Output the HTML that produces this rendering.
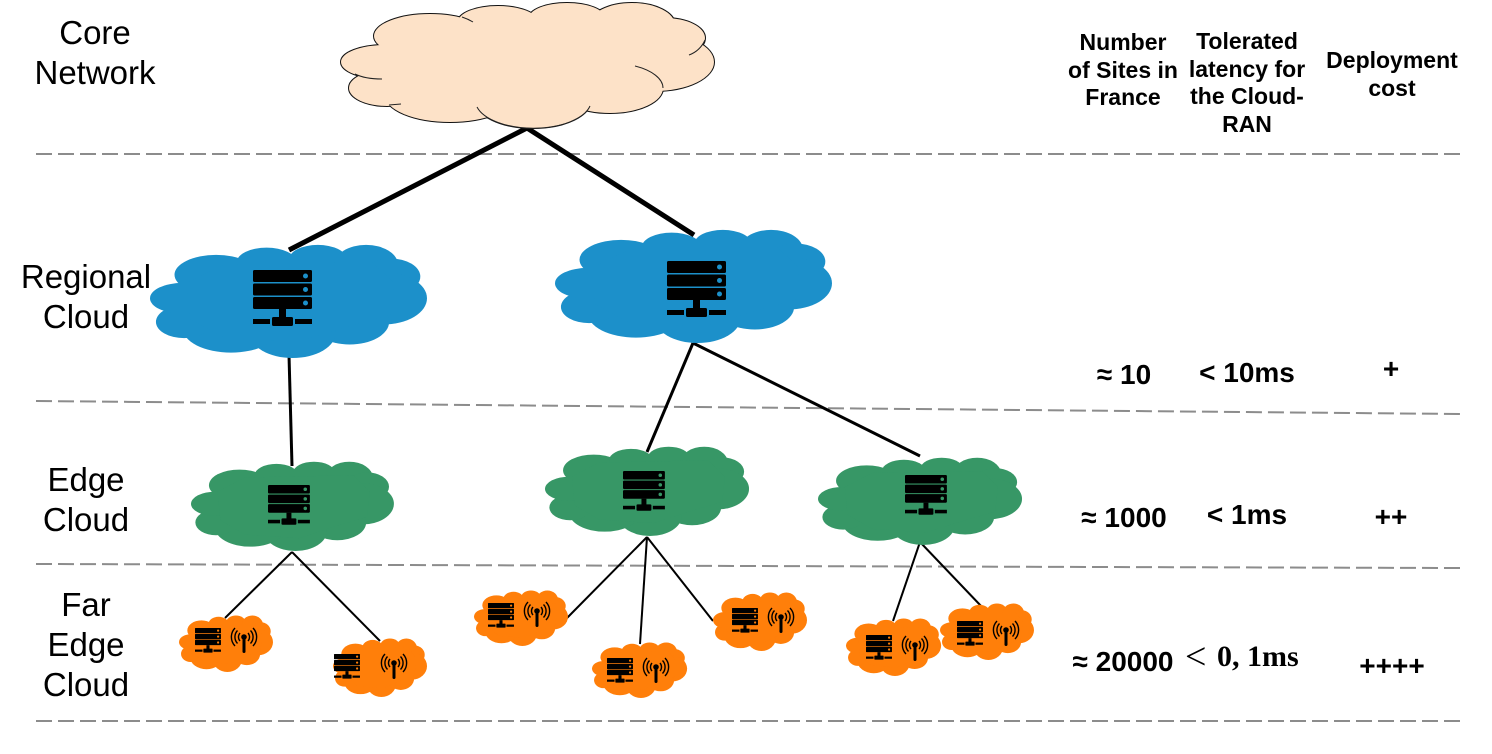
<!DOCTYPE html>
<html><head><meta charset="utf-8"><style>
html,body{margin:0;padding:0;background:#fff}
svg{display:block}
text{font-family:"Liberation Sans",sans-serif;fill:#000}
.l{font-size:33px;text-anchor:middle}
.h{font-size:23px;font-weight:bold;text-anchor:middle}
.v{font-size:28px;font-weight:bold;text-anchor:middle}
</style></head><body>
<svg width="1492" height="754" viewBox="0 0 1492 754" xmlns="http://www.w3.org/2000/svg">
<defs>
<g id="cl">
<ellipse cx="430" cy="36" rx="56" ry="22"/>
<ellipse cx="498" cy="22" rx="40" ry="16"/>
<ellipse cx="567" cy="18" rx="38" ry="15"/>
<ellipse cx="632" cy="25" rx="43" ry="22"/>
<ellipse cx="665" cy="38" rx="40" ry="20"/>
<ellipse cx="655" cy="62" rx="59" ry="29"/>
<ellipse cx="610" cy="88" rx="53" ry="25"/>
<ellipse cx="533" cy="100" rx="58" ry="28"/>
<ellipse cx="450" cy="95" rx="65" ry="27"/>
<ellipse cx="387" cy="88" rx="38" ry="18"/>
<ellipse cx="385" cy="62" rx="44" ry="17"/>
<polygon points="390,45 440,25 640,22 670,45 665,80 600,95 540,110 440,105 395,85"/>
</g>
<g id="srv">
<rect x="0" y="0" width="59" height="12" rx="1.5" fill="#000"/>
<rect x="0" y="13.5" width="59" height="12" rx="1.5" fill="#000"/>
<rect x="0" y="27" width="59" height="12" rx="1.5" fill="#000"/>
<circle cx="52.5" cy="6" r="2.5"/>
<circle cx="52.5" cy="19.5" r="2.5"/>
<circle cx="52.5" cy="33" r="2.5"/>
<rect x="26" y="39" width="7" height="9" fill="#000"/>
<rect x="19" y="47" width="21" height="9" rx="1.5" fill="#000"/>
<rect x="0" y="49" width="17" height="5" fill="#000"/>
<rect x="42" y="49" width="17" height="5" fill="#000"/>
</g>
<g id="ant" fill="none" stroke="#000" stroke-width="1.4">
<path d="M-4 -5A6 6 0 0 0 -4 3M4 -5A6 6 0 0 1 4 3"/>
<path d="M-6.5 -7.5A9.5 9.5 0 0 0 -6.5 5.5M6.5 -7.5A9.5 9.5 0 0 1 6.5 5.5"/>
<path d="M-9 -10A13 13 0 0 0 -9 8M9 -10A13 13 0 0 1 9 8"/>
<circle cx="0" cy="-1" r="2.8" fill="#000" stroke="none"/>
<path d="M0 -1V13.5" stroke-width="3" stroke-linecap="round"/>
</g>
</defs>

<!-- dashed tiers -->
<g stroke="#8c8c8c" stroke-width="2" stroke-dasharray="16 6" fill="none">
<path d="M36 154H1460"/>
<path d="M36 401L1460 414"/>
<path d="M36 564L1460 568"/>
<path d="M36 721H1460"/>
</g>

<!-- connectors -->
<g stroke="#000" fill="none">
<path d="M527 128L289 250" stroke-width="5"/>
<path d="M527 128L694 235" stroke-width="5"/>
<path d="M289 355L292 466" stroke-width="3"/>
<path d="M693 343L647 452" stroke-width="3"/>
<path d="M693 343L920 456" stroke-width="3"/>
<g stroke-width="2">
<path d="M292 552L225 618"/>
<path d="M292 552L380 641"/>
<path d="M647 537L567 618"/>
<path d="M647 537L640 644"/>
<path d="M647 537L713 621"/>
<path d="M920 542L893 621"/>
<path d="M920 542L982 607"/>
</g>
</g>

<!-- core cloud -->
<use href="#cl" fill="#fde2c8" stroke="#111" stroke-width="2"/>
<use href="#cl" fill="#fde2c8"/>
<g fill="none" stroke="#222" stroke-width="1">
<path d="M462 17Q468 19 473 22"/>
<path d="M689 55Q700 51 705 40"/>
<path d="M635 66A53 25 0 0 1 663 88"/>
<path d="M477 107A58 28 0 0 0 590 106"/>
<path d="M355 74Q365 79 382 79"/>
<path d="M389 105L401 104"/>
</g>

<!-- regional -->
<use href="#cl" fill="#1c90ca" transform="translate(150,244) scale(.7426,.905) translate(-341,-2)"/>
<use href="#cl" fill="#1c90ca" transform="translate(555,229) scale(.7426,.905) translate(-341,-2)"/>
<use href="#srv" fill="#1c90ca" transform="translate(253,270)"/>
<use href="#srv" fill="#1c90ca" transform="translate(667,261)"/>

<!-- edge -->
<use href="#cl" fill="#379766" transform="translate(191,461) scale(.544,.714) translate(-341,-2)"/>
<use href="#cl" fill="#379766" transform="translate(545,446) scale(.547,.714) translate(-341,-2)"/>
<use href="#cl" fill="#379766" transform="translate(818,457) scale(.547,.698) translate(-341,-2)"/>
<use href="#srv" fill="#379766" transform="translate(268,485) scale(.71)"/>
<use href="#srv" fill="#379766" transform="translate(623,471) scale(.71)"/>
<use href="#srv" fill="#379766" transform="translate(905,475) scale(.71)"/>

<!-- far edge -->
<g fill="#ff7f0a">
<use href="#cl" transform="translate(179,615) scale(.252,.452) translate(-341,-2)"/>
<use href="#cl" transform="translate(333,638) scale(.252,.468) translate(-341,-2)"/>
<use href="#cl" transform="translate(474,590) scale(.252,.444) translate(-341,-2)"/>
<use href="#cl" transform="translate(592,642) scale(.255,.444) translate(-341,-2)"/>
<use href="#cl" transform="translate(713,592) scale(.252,.468) translate(-341,-2)"/>
<use href="#cl" transform="translate(846,618) scale(.255,.460) translate(-341,-2)"/>
<use href="#cl" transform="translate(940,603) scale(.252,.452) translate(-341,-2)"/>
<use href="#srv" transform="translate(195,628) scale(.44)"/>
<use href="#srv" transform="translate(334,654) scale(.44)"/>
<use href="#srv" transform="translate(488,603) scale(.44)"/>
<use href="#srv" transform="translate(607,658) scale(.44)"/>
<use href="#srv" transform="translate(732,608) scale(.44)"/>
<use href="#srv" transform="translate(866,635) scale(.44)"/>
<use href="#srv" transform="translate(957,621) scale(.44)"/>
</g>
<use href="#ant" transform="translate(244,638)"/>
<use href="#ant" transform="translate(394,664)"/>
<use href="#ant" transform="translate(537,612)"/>
<use href="#ant" transform="translate(656,668)"/>
<use href="#ant" transform="translate(781,618)"/>
<use href="#ant" transform="translate(915,646)"/>
<use href="#ant" transform="translate(1006,631)"/>

<!-- left labels -->
<text class="l" x="95" y="44">Core</text>
<text class="l" x="95" y="84">Network</text>
<text class="l" x="86" y="288">Regional</text>
<text class="l" x="86" y="328">Cloud</text>
<text class="l" x="86" y="491">Edge</text>
<text class="l" x="86" y="531">Cloud</text>
<text class="l" x="86" y="616">Far</text>
<text class="l" x="86" y="656">Edge</text>
<text class="l" x="86" y="696">Cloud</text>

<!-- headers -->
<text class="h" x="1123" y="50">Number</text>
<text class="h" x="1123" y="78">of Sites in</text>
<text class="h" x="1123" y="105">France</text>
<text class="h" x="1247" y="49">Tolerated</text>
<text class="h" x="1247" y="77">latency for</text>
<text class="h" x="1247" y="104">the Cloud-</text>
<text class="h" x="1247" y="132">RAN</text>
<text class="h" x="1392" y="68">Deployment</text>
<text class="h" x="1392" y="96">cost</text>

<!-- values -->
<text class="v" x="1124" y="384">≈ 10</text>
<text class="v" x="1247" y="382">&lt; 10ms</text>
<text class="v" x="1391" y="378">+</text>
<text class="v" x="1124" y="527">≈ 1000</text>
<text class="v" x="1247" y="524">&lt; 1ms</text>
<text class="v" x="1391" y="526">++</text>
<text class="v" x="1123" y="671">≈ 20000</text>
<text x="1185" y="669" style="font-family:'Liberation Serif',serif;font-size:38px">&lt;</text>
<text x="1217" y="666" style="font-family:'Liberation Serif',serif;font-size:30px;font-weight:bold">0, 1ms</text>
<text class="v" x="1392" y="675">++++</text>
</svg>
</body></html>
